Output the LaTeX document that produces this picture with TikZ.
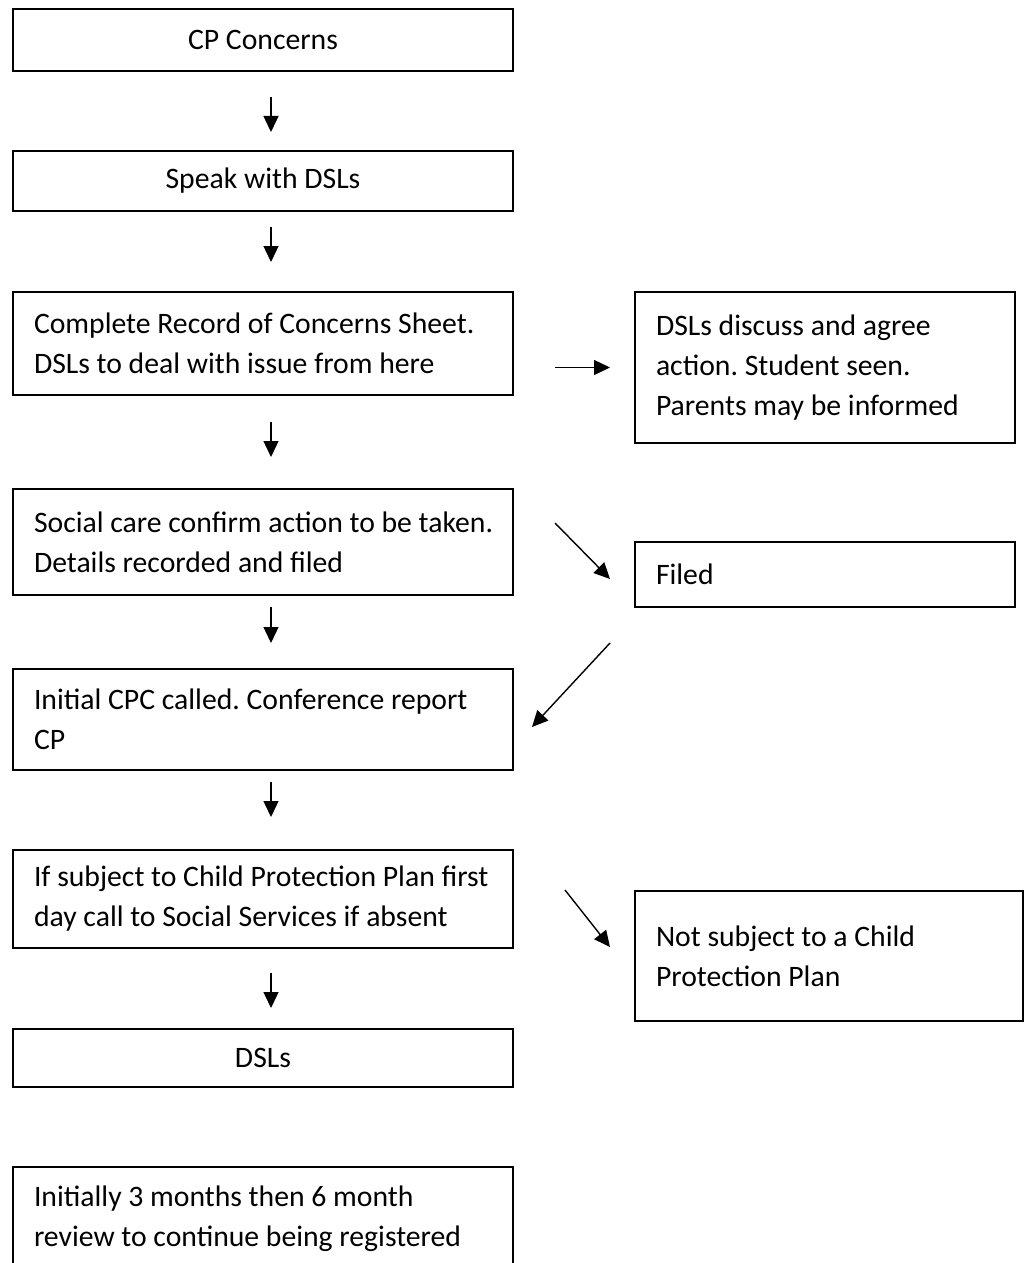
\documentclass[tikz,border=0pt]{standalone}
\usepackage{fontspec}
\setmainfont{Carlito}
\frenchspacing
\usetikzlibrary{positioning}
\usetikzlibrary{arrows.meta}

\begin{document}
\begin{tikzpicture}[
      font=\fontsize{14.85pt}{20pt}\selectfont,
      box/.style = {draw, rectangle, line width=1pt, outer sep=0pt,
         inner xsep=10.5pt, inner ysep=0pt, align=flush left, text width=229pt},
      midbox/.style = {box, align=flush center},
      sidebox/.style = {box, text width=169pt},
      flow/.style = {line width=0.7pt, -{Triangle[length=8pt,width=7.5pt]}}]

   \useasboundingbox (0,0) rectangle (512pt,-631.5pt);
   \clip (0,0) rectangle (512pt,-631.5pt);

   % main column
   \node[midbox, minimum height=31pt, anchor=north west] at (6.5pt,-4.5pt)
      (concerns) {CP Concerns};
   \node[midbox, minimum height=30pt, below=40pt of concerns] (speak)
      {Speak with DSLs};
   \node[box, minimum height=51.5pt, below=40.5pt of speak] (record)
      {Complete Record of Concerns Sheet.\\DSLs to deal with issue from here};
   \node[box, minimum height=53pt, below=47pt of record] (social)
      {\mbox{Social care confirm action to be taken.}\\Details recorded and filed};
   \node[box, minimum height=50.5pt, below=37pt of social] (initial)
      {Initial CPC called. Conference report\\CP};
   \node[box, minimum height=49pt, below=40pt of initial] (plan)
      {\mbox{If subject to Child Protection Plan first}\\day call to Social Services if absent};
   \node[midbox, minimum height=29pt, below=40.5pt of plan] (dsls) {DSLs};
   \node[box, minimum height=52pt, below=40pt of dsls] (review)
      {Initially 3 months then 6 month\\review to continue being registered};

   % side column
   \node[sidebox, minimum height=75.5pt, below right=0pt and 61pt of record.north east]
      (discuss) {DSLs discuss and agree\\action. Student seen.\\Parents may be informed};
   \node[sidebox, minimum height=32.5pt, below right=26.5pt and 61pt of social.north east]
      (filed) {Filed};
   \node[sidebox, text width=173pt, minimum height=65pt,
      below right=20.5pt and 61pt of plan.north east]
      (notplan) {Not subject to a Child\\Protection Plan};

   % arrows down the main column
   \coordinate (axis) at (135.5pt,0);
   \draw[flow, shorten <=13pt, shorten >=9.5pt] (concerns.south -| axis) -- (speak.north -| axis);
   \draw[flow, shorten <=8pt, shorten >=15pt] (speak.south -| axis) -- (record.north -| axis);
   \draw[flow, shorten <=13.5pt, shorten >=16pt] (record.south -| axis) -- (social.north -| axis);
   \draw[flow, shorten <=6pt, shorten >=13pt] (social.south -| axis) -- (initial.north -| axis);
   \draw[flow, shorten <=6pt, shorten >=16.5pt] (initial.south -| axis) -- (plan.north -| axis);
   \draw[flow, shorten <=12.5pt, shorten >=10.5pt] (plan.south -| axis) -- (dsls.north -| axis);

   % arrows to and from the side column
   \draw[flow, shorten <=21pt, shorten >=12.5pt] (record.east |- discuss.west) -- (discuss.west);

   \coordinate (filedout) at (277.5pt,-261.5pt);
   \coordinate (filedin)  at (305pt,-289.5pt);
   \draw[flow] (filedout) -- (filedin);

   \coordinate (cpcout) at (305pt,-321.5pt);
   \coordinate (cpcin)  at (266pt,-363.5pt);
   \draw[flow] (cpcout) -- (cpcin);

   \coordinate (notout) at (282.5pt,-445pt);
   \coordinate (notin)  at (305pt,-473.5pt);
   \draw[flow] (notout) -- (notin);

\end{tikzpicture}
\end{document}
